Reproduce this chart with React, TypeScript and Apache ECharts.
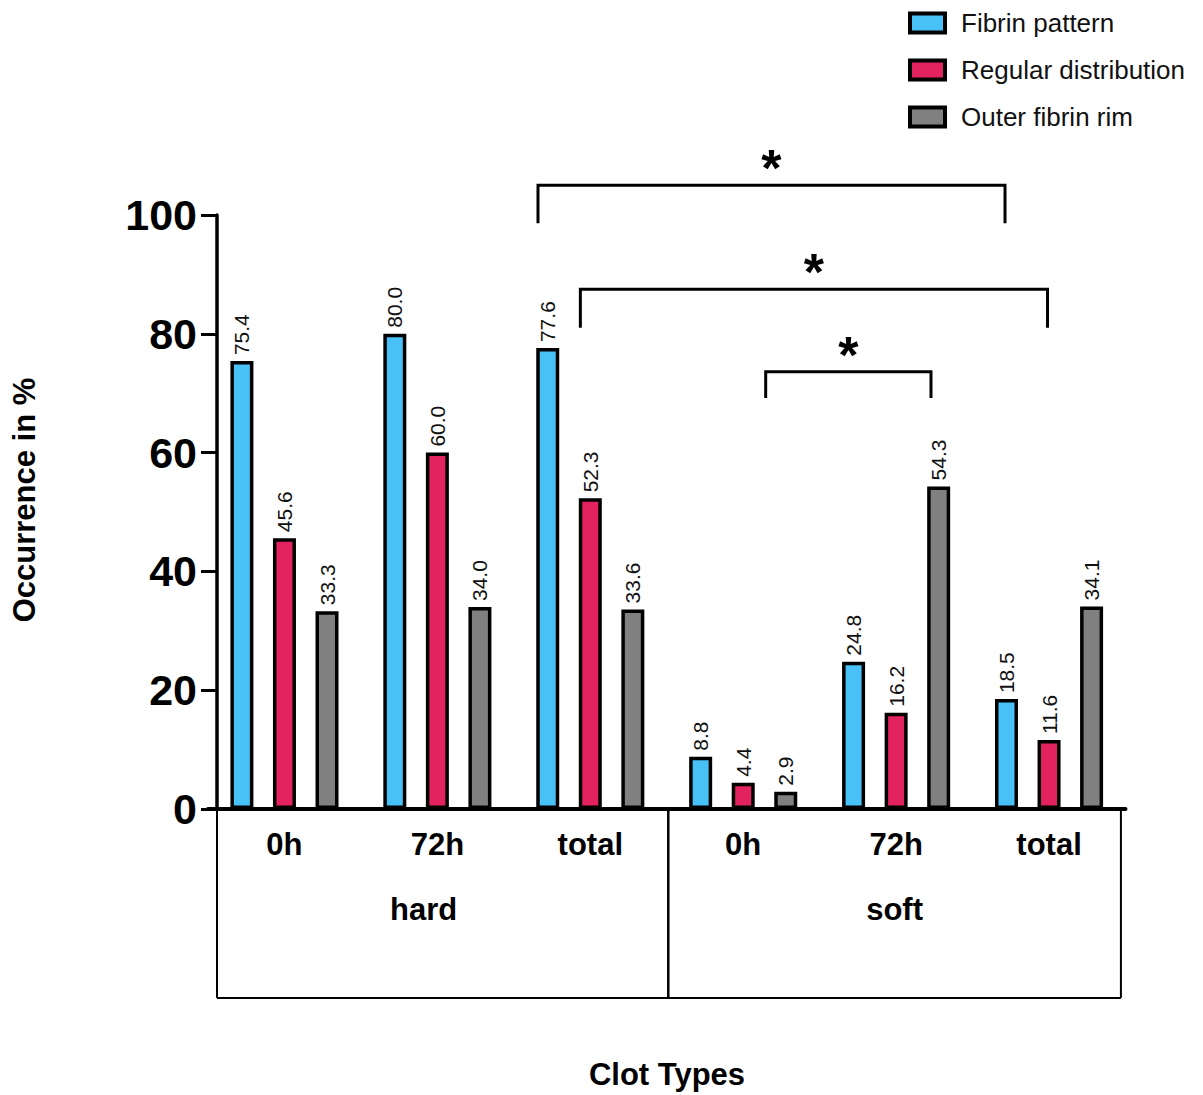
import React, { useEffect, useRef } from "react";
import * as echarts from "echarts";

const categories = ["0h", "72h", "total", "0h", "72h", "total"];
const seriesNames = ["Fibrin pattern", "Regular distribution", "Outer fibrin rim"];
const fibrinPattern = [75.4, 80.0, 77.6, 8.8, 24.8, 18.5];
const regularDistribution = [45.6, 60.0, 52.3, 4.4, 16.2, 11.6];
const outerFibrinRim = [33.3, 34.0, 33.6, 2.9, 54.3, 34.1];
const colors = ["#47c1f6", "#e3235f", "#808080"];
const yMin = 0;
const yMax = 100;
const yInterval = 20;
const groupLabels = [
  { text: "hard", cat: 1, shift: -0.09 },
  { text: "soft", cat: 4, shift: -0.01 },
];
// significance brackets: category index + fraction of band, heights in axis units
const brackets = [
  { from: [2, -0.342], to: [5, -0.288], top: 105.0, leg: 98.6, label: "*" },
  { from: [2, -0.065], to: [5, -0.01], top: 87.5, leg: 81.0, label: "*" },
  { from: [3, 0.147], to: [4, 0.228], top: 73.6, leg: 69.2, label: "*" },
];

const FONT = "'Liberation Sans', Arial, Helvetica, sans-serif";
const Y_OFFSET = -9;

export default function App() {
  const ref = useRef<HTMLDivElement>(null);
  useEffect(() => {
    if (!ref.current) return;
    const chart = echarts.init(ref.current, undefined, { renderer: "svg" });
    const data = [fibrinPattern, regularDistribution, outerFibrinRim];
    const option: any = {
      animation: false,
      backgroundColor: "#fff",
      textStyle: { fontFamily: FONT },
      legend: {
        orient: "vertical",
        left: 903,
        top: 5,
        itemWidth: 35,
        itemHeight: 19,
        itemGap: 21,
        icon: "rect",
        itemStyle: { borderColor: "#000", borderWidth: 4 },
        textStyle: { fontSize: 26, color: "#111", fontFamily: FONT, padding: [0, 0, 0, 11], lineHeight: 26 },
        data: seriesNames,
      },
      grid: { left: 208, right: 77.5, top: 215, bottom: 286, containLabel: false },
      xAxis: {
        type: "category",
        data: categories,
        axisLine: { lineStyle: { color: "#000", width: 4 } },
        axisTick: { alignWithLabel: true, length: 14, lineStyle: { color: "#000", width: 3 } },
        axisLabel: { fontSize: 31, fontWeight: "bold", color: "#000", margin: 20, fontFamily: FONT },
      },
      yAxis: {
        type: "value",
        min: yMin,
        max: yMax,
        interval: yInterval,
        offset: Y_OFFSET,
        axisLine: { show: true, lineStyle: { color: "#000", width: 3.5 } },
        axisTick: { show: true, length: 16, lineStyle: { color: "#000", width: 3 } },
        axisLabel: { fontSize: 43, fontWeight: "bold", color: "#000", margin: 20, fontFamily: FONT },
        splitLine: { show: false },
      },
      series: seriesNames.map((name, i) => ({
        name,
        type: "bar",
        data: data[i],
        barWidth: 23,
        barGap: "85%",
        itemStyle: {
          color: colors[i],
          borderColor: "#000",
          borderWidth: 3.5,
        },
        label: {
          show: true,
          position: "top",
          rotate: 90,
          align: "left",
          verticalAlign: "middle",
          distance: 6,
          fontSize: 21,
          color: "#111",
          fontFamily: FONT,
          formatter: (p: any) => Number(p.value).toFixed(1),
        },
      })),
    };
    chart.setOption(option);

    const xPx = (i: number) => chart.convertToPixel({ xAxisIndex: 0 }, i) as number;
    const band = xPx(1) - xPx(0);
    const xAt = (i: number, f: number) => xPx(i) + f * band;
    const yAt = (v: number) => chart.convertToPixel({ yAxisIndex: 0 }, v) as number;

    const lineStyle = { stroke: "#000", lineWidth: 2 };
    const axisX = xAt(0, -0.5) - Y_OFFSET;
    const y0 = yAt(0);
    const yBottom = yAt(-31.8);
    const graphic: any[] = [];
    // category box
    graphic.push({ type: "line", shape: { x1: axisX, y1: y0, x2: axisX, y2: yBottom }, style: lineStyle });
    graphic.push({ type: "line", shape: { x1: axisX, y1: yBottom, x2: xAt(5, 0.47), y2: yBottom }, style: lineStyle });
    graphic.push({ type: "line", shape: { x1: xAt(2, 0.51), y1: y0, x2: xAt(2, 0.51), y2: yBottom }, style: { stroke: "#000", lineWidth: 2.5 } });
    graphic.push({ type: "line", shape: { x1: xAt(5, 0.47), y1: y0, x2: xAt(5, 0.47), y2: yBottom }, style: lineStyle });
    groupLabels.forEach((g) => {
      graphic.push({
        type: "text",
        x: xAt(g.cat, g.shift),
        y: yAt(-16.9),
        style: { text: g.text, fontSize: 31, fontWeight: "bold", fill: "#000", fontFamily: FONT, align: "center", verticalAlign: "middle" },
      });
    });
    // brackets
    brackets.forEach((b) => {
      const x1 = xAt(b.from[0], b.from[1]);
      const x2 = xAt(b.to[0], b.to[1]);
      const yt = yAt(b.top);
      const yl = yAt(b.leg);
      graphic.push({
        type: "polyline",
        shape: { points: [[x1, yl], [x1, yt], [x2, yt], [x2, yl]] },
        style: { stroke: "#000", lineWidth: 3, fill: null },
      });
      graphic.push({
        type: "text",
        x: (x1 + x2) / 2,
        y: yt - 17,
        style: { text: b.label, fontSize: 52, fontWeight: "bold", fill: "#000", fontFamily: FONT, align: "center", verticalAlign: "middle" },
      });
    });
    // axis titles
    graphic.push({
      type: "text",
      x: 24,
      y: 500,
      rotation: Math.PI / 2,
      style: { text: "Occurrence in %", fontSize: 31, fontWeight: "bold", fill: "#000", fontFamily: FONT, align: "center", verticalAlign: "middle" },
    });
    graphic.push({
      type: "text",
      x: 667,
      y: 1074,
      style: { text: "Clot Types", fontSize: 31, fontWeight: "bold", fill: "#000", fontFamily: FONT, align: "center", verticalAlign: "middle" },
    });
    chart.setOption({ graphic });

    return () => chart.dispose();
  }, []);
  return <div ref={ref} style={{ position: "absolute", left: 0, top: 0, width: 1203, height: 1095 }} />;
}
